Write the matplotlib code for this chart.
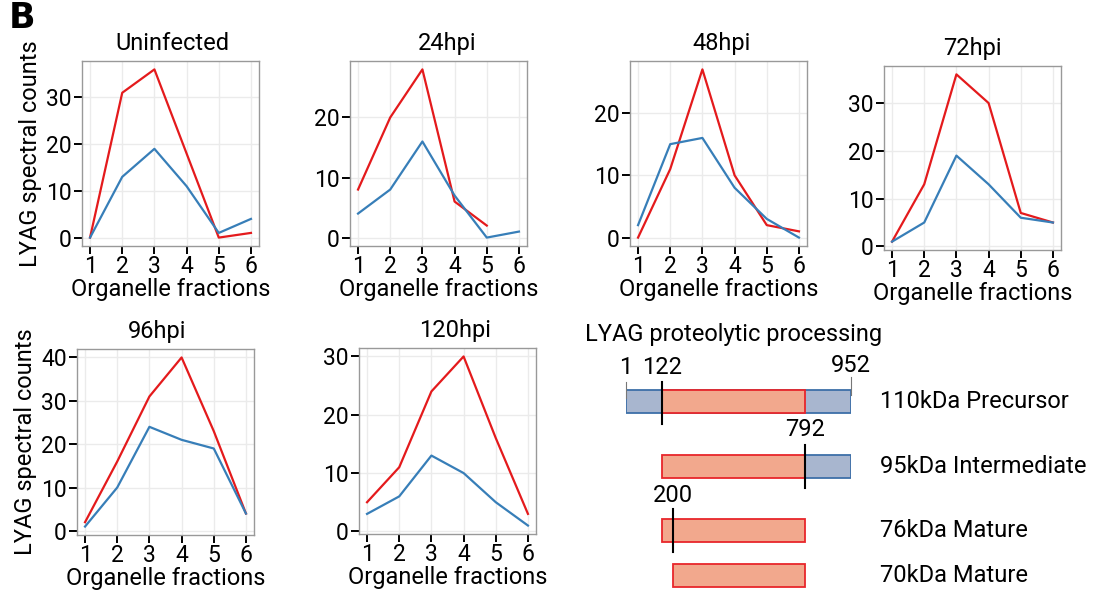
import numpy as np
import matplotlib
matplotlib.use("Agg")
import matplotlib.pyplot as plt

plt.rcParams['font.family'] = ['Roboto', 'DejaVu Sans']

# spectral counts per organelle fraction
fractions = [1, 2, 3, 4, 5, 6]
panels = ["Uninfected", "24hpi", "48hpi", "72hpi", "96hpi", "120hpi"]
red_counts = [
    [0, 31, 36, 18, 0, 1],
    [8, 20, 28, 6, 2, np.nan],
    [0, 11, 27, 10, 2, 1],
    [1, 13, 36, 30, 7, 5],
    [2, 16, 31, 40, 23, 4],
    [5, 11, 24, 30, 16, 3],
]
blue_counts = [
    [0, 13, 19, 11, 1, 4],
    [4, 8, 16, 7, 0, 1],
    [2, 15, 16, 8, 3, 0],
    [1, 5, 19, 13, 6, 5],
    [1, 10, 24, 21, 19, 4],
    [3, 6, 13, 10, 5, 1],
]
yticks = [[0, 10, 20, 30], [0, 10, 20], [0, 10, 20], [0, 10, 20, 30],
          [0, 10, 20, 30, 40], [0, 10, 20, 30]]

# LYAG processing schematic (residue numbers)
forms = ["110kDa Precursor", "95kDa Intermediate", "76kDa Mature", "70kDa Mature"]
red_start = [122, 122, 122, 200]
red_end = [792, 792, 792, 792]
blue_start = [1, 792, None, None]
blue_end = [952, 952, None, None]
cut_sites = [122, 792, 200]

RED = "#E41A1C"
BLUE = "#377EB8"
W, H = 1095, 603


def rect(x0, y0, x1, y1):
    return [x0 / W, 1 - y1 / H, (x1 - x0) / W, (y1 - y0) / H]


boxes = [(82, 61, 259, 246), (350, 61, 527, 246), (630, 61, 807, 246),
         (884, 66, 1061, 250), (77, 349, 254, 535), (359, 348, 536, 534)]
title_dx = [1.5, 8.5, 3, -0.5, -8.5, 7.5]

fig = plt.figure(figsize=(W / 100, H / 100), dpi=100)

for i, name in enumerate(panels):
    ax = fig.add_axes(rect(*boxes[i]))
    ax.plot(fractions, red_counts[i], color=RED, lw=1.6)
    ax.plot(fractions, blue_counts[i], color=BLUE, lw=1.6)
    vals = np.array(red_counts[i] + blue_counts[i], dtype=float)
    lo, hi = np.nanmin(vals), np.nanmax(vals)
    pad = (hi - lo) * 0.05
    ax.set_ylim(lo - pad, hi + pad)
    ax.set_xlim(0.75, 6.25)
    ax.set_xticks(fractions)
    ax.set_yticks(yticks[i])
    ax.grid(True, color="#EBEBEB", lw=1.0)
    ax.set_axisbelow(True)
    for s in ax.spines.values():
        s.set_color("#999999")
        s.set_linewidth(1.0)
    ax.tick_params(length=5.5, width=1.4, color="black", labelsize=16.5, pad=2)
    ax.tick_params(axis="x", pad=1)
    ax.set_title(name, fontsize=17, pad=8, x=0.5 + title_dx[i] / 177)
    ax.set_xlabel("Organelle fractions", fontsize=17, labelpad=0)
    if i in (0, 4):
        ax.set_ylabel("LYAG spectral counts", fontsize=17, labelpad=3)

fig.text(9 / W, 1 - 18 / H, "B", fontsize=25, fontweight="bold",
         va="center", ha="left", family=["DejaVu Sans"])

# processing schematic: drawn not to scale, so residues go through a piecewise scale
res_pts = [1, 122, 200, 792, 952]
px_pts = [626, 662, 673, 805, 851]


def fwd(x):
    return np.interp(x, res_pts, px_pts)


def inv(p):
    return np.interp(p, px_pts, res_pts)


dg = fig.add_axes(rect(626, 355, 851, 595))
dg.set_xscale("function", functions=(fwd, inv))
dg.set_xlim(1, 952)
dg.set_ylim(595, 355)
dg.axis("off")
rows = [401.5, 466.5, 530.5, 575.5]
bh = 23
for k, form in enumerate(forms):
    if blue_start[k] is not None:
        dg.barh(rows[k], blue_end[k] - blue_start[k], left=blue_start[k], height=bh,
                color="#A8B6CF", edgecolor="#3D6FA8", lw=1.3)
    dg.barh(rows[k], red_end[k] - red_start[k], left=red_start[k], height=bh,
            color="#F2A88D", edgecolor="#E8262B", lw=1.3)
    fig.text(880 / W, 1 - rows[k] / H, form, fontsize=17, va="center", ha="left")

# ends of precursor
dg.plot([1, 1], [382, 398], color="#777777", lw=0.8, clip_on=False)
dg.plot([952, 952], [377, 395], color="#777777", lw=0.8, clip_on=False)
dg.text(1, 368, "1", fontsize=17, ha="center", va="center")
dg.text(952, 365, "952", fontsize=17, ha="center", va="center")
# cleavage sites
cut_spans = [(382, 424), (445, 488), (509, 552)]
cut_label_y = [368, 430, 495]
for c, (y0, y1), ly in zip(cut_sites, cut_spans, cut_label_y):
    dg.plot([c, c], [y0, y1], color="black", lw=1.5, clip_on=False)
    dg.text(c, ly, str(c), fontsize=17, ha="center", va="center")

fig.text(585 / W, 1 - 335 / H, "LYAG proteolytic processing", fontsize=17,
         va="center", ha="left")

fig.savefig("out.png", dpi=100)
